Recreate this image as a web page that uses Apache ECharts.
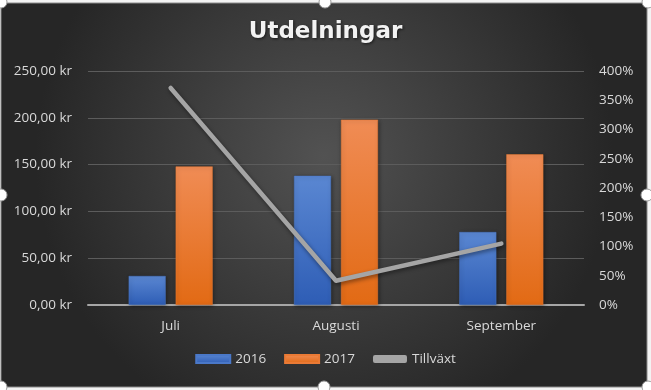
<!DOCTYPE html>
<html><head><meta charset="utf-8">
<script src="https://cdn.jsdelivr.net/npm/echarts@6/dist/echarts.min.js"></script>
<style>html,body{margin:0;padding:0;background:#f3f3f3;}#c{width:651px;height:390px;}</style>
</head><body><div id="c"></div>
<script>
const categories = ['Juli', 'Augusti', 'September'];
const values2016 = [31, 138, 78];
const values2017 = [148, 198, 161];
const growthPct = [371, 41.5, 105];
const leftTicks = [0, 50, 100, 150, 200, 250];
const rightTicks = [0, 50, 100, 150, 200, 250, 300, 350, 400];

const chart = echarts.init(document.getElementById('c'), null, {renderer: 'canvas'});
const txt = '#d9d9d9';
const font = 'Open Sans';
function handle(x, y) {
  return {type: 'circle', shape: {cx: x, cy: y, r: 6}, z: 100,
    style: {fill: '#ffffff', stroke: '#9a9a9a', lineWidth: 1}};
}
chart.setOption({
  animation: false,
  backgroundColor: '#f3f3f3',
  graphic: [
    {type: 'rect', shape: {x: 1, y: 3, width: 646, height: 384}, z: -10, silent: true,
      style: {fill: new echarts.graphic.RadialGradient(0.5, 0.4, 0.75, [
        {offset: 0, color: '#525252'}, {offset: 1, color: '#262626'}]),
        stroke: '#8a8a8a', lineWidth: 1}},
    handle(1, 2), handle(325, 2), handle(648, 2),
    handle(1, 195), handle(647, 195),
    handle(1, 387), handle(324, 387), handle(648, 387)
  ],
  title: {
    text: 'Utdelningar', left: 'center', top: 16,
    textStyle: {color: '#f2f2f2', fontFamily: 'DejaVu Sans', fontWeight: 'bold', fontSize: 23,
      textShadowColor: 'rgba(0,0,0,0.6)', textShadowBlur: 3, textShadowOffsetX: 1, textShadowOffsetY: 1}
  },
  legend: {
    bottom: 19, left: 'center', itemGap: 18, itemWidth: 34, itemHeight: 8,
    textStyle: {color: txt, fontFamily: font, fontSize: 13.5},
    data: [
      {name: '2016', icon: 'rect'},
      {name: '2017', icon: 'rect'},
      {name: 'Tillväxt', icon: 'roundRect', itemStyle: {color: '#a5a5a5'}}
    ]
  },
  grid: {left: 88, right: 67, top: 71, bottom: 85},
  xAxis: {
    type: 'category', data: categories,
    axisLine: {lineStyle: {color: '#a6a6a6', width: 2}},
    axisTick: {show: false},
    axisLabel: {color: txt, fontFamily: font, fontSize: 13.5, margin: 14}
  },
  yAxis: [
    {type: 'value', min: leftTicks[0], max: leftTicks[leftTicks.length - 1], interval: 50,
      axisLine: {show: false}, axisTick: {show: false},
      splitLine: {lineStyle: {color: '#5c5c5c', width: 1}},
      axisLabel: {color: txt, fontFamily: font, fontSize: 13.5, margin: 16,
        formatter: v => v.toFixed(2).replace('.', ',') + ' kr'}},
    {type: 'value', min: rightTicks[0], max: rightTicks[rightTicks.length - 1], interval: 50,
      axisLine: {show: false}, axisTick: {show: false}, splitLine: {show: false},
      axisLabel: {color: txt, fontFamily: font, fontSize: 13.5, margin: 15,
        formatter: v => v + '%'}}
  ],
  series: [
    {name: '2016', type: 'bar', data: values2016, barWidth: 37, barGap: '27%',
      itemStyle: {color: new echarts.graphic.LinearGradient(0, 0, 0, 1, [
        {offset: 0, color: '#5a87d2'}, {offset: 1, color: '#2e5db5'}]),
        borderColor: '#4a78c8', borderWidth: 0.5,
        shadowColor: 'rgba(0,0,0,0.4)', shadowBlur: 4, shadowOffsetX: 1, shadowOffsetY: 1}},
    {name: '2017', type: 'bar', data: values2017, barWidth: 37,
      itemStyle: {color: new echarts.graphic.LinearGradient(0, 0, 0, 1, [
        {offset: 0, color: '#f08c55'}, {offset: 1, color: '#e26a14'}]),
        borderColor: '#ea7a35', borderWidth: 0.5,
        shadowColor: 'rgba(0,0,0,0.4)', shadowBlur: 4, shadowOffsetX: 1, shadowOffsetY: 1}},
    {name: 'Tillväxt', type: 'line', yAxisIndex: 1, data: growthPct,
      symbol: 'none', z: 5,
      lineStyle: {color: '#a5a5a5', width: 4.5, cap: 'round', join: 'round',
        shadowColor: 'rgba(0,0,0,0.45)', shadowBlur: 4, shadowOffsetX: 1, shadowOffsetY: 2},
      itemStyle: {color: '#a5a5a5'}}
  ]
});
</script></body></html>
